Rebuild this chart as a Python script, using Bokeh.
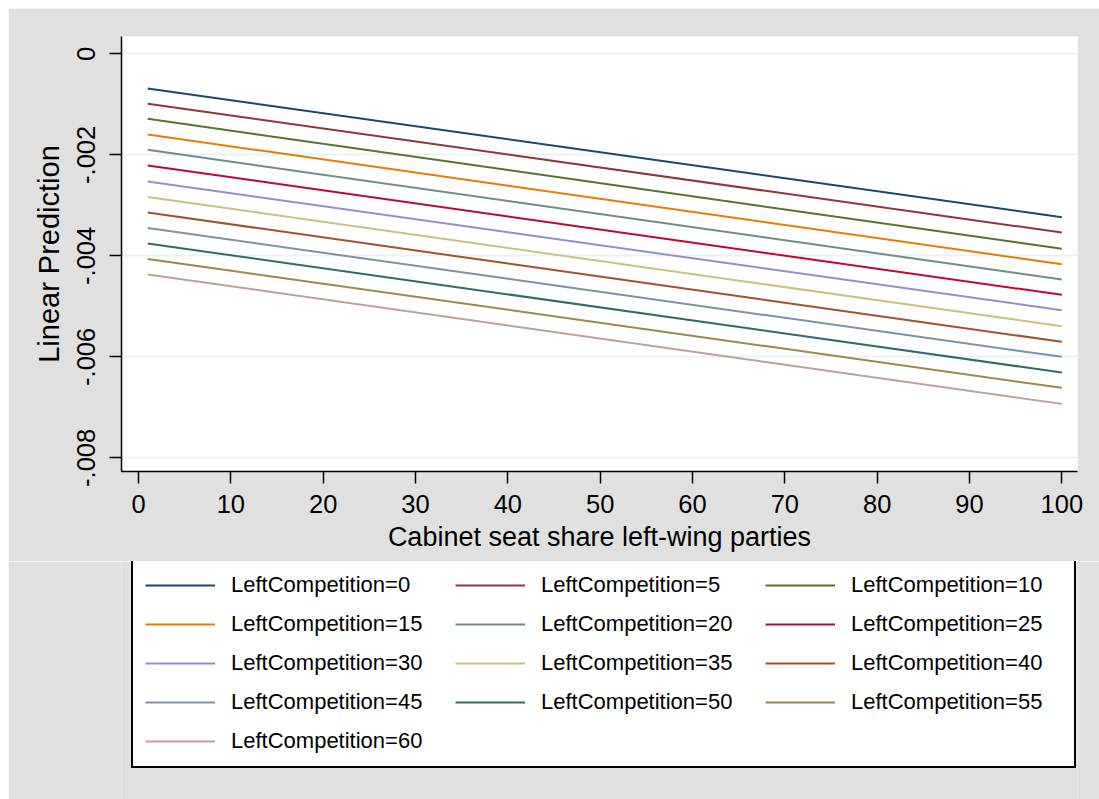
from bokeh.plotting import figure
from bokeh.layouts import column
from bokeh.models import Legend, LegendItem, FixedTicker, Range1d
from bokeh.embed import file_html
from bokeh.resources import INLINE

# ---- data ----
left_competition = [0, 5, 10, 15, 20, 25, 30, 35, 40, 45, 50, 55, 60]
seat_share = [1, 100]
pred_at_1 = [-0.000687, -0.000990, -0.001287, -0.001598, -0.001901, -0.002212,
             -0.002529, -0.002836, -0.003143, -0.003450, -0.003756, -0.004063, -0.004370]
pred_at_100 = [-0.003236, -0.003539, -0.003861, -0.004166, -0.004469, -0.004772,
               -0.005077, -0.005394, -0.005703, -0.006000, -0.006311, -0.006614, -0.006931]
x_ticks = [0, 10, 20, 30, 40, 50, 60, 70, 80, 90, 100]
y_ticks = [0, -0.002, -0.004, -0.006, -0.008]
y_tick_labels = ["0", "-.002", "-.004", "-.006", "-.008"]

colors = ["#1a476f", "#90353b", "#55752f", "#e37e00", "#6e8e84", "#c10534",
          "#938dd2", "#cac27e", "#a0522d", "#7b92a8", "#2d6d66", "#9c8847", "#bfa19c"]

FONT = "Liberation Sans"
BG = "#e0e0e0"

# ---------------- main plot ----------------
p = figure(frame_width=956, frame_height=435, output_backend="svg", toolbar_location=None,
           x_range=Range1d(-1.84, 101.7), y_range=Range1d(-0.00827, 0.000343),
           min_border_left=113, min_border_right=22, min_border_top=28,
           min_border_bottom=90)
p.border_fill_color = BG
p.background_fill_color = "white"
p.outline_line_color = None

for lc, y0, y1, c in zip(left_competition, pred_at_1, pred_at_100, colors):
    p.line(seat_share, [y0, y1], line_color=c, line_width=2)

p.xgrid.visible = False
p.ygrid.grid_line_color = "#eaf2f3"
p.ygrid.grid_line_width = 2

for ax in (p.xaxis[0], p.yaxis[0]):
    ax.axis_line_width = 1.5
    ax.axis_line_color = "black"
    ax.major_tick_line_width = 1.5
    ax.major_tick_line_color = "black"
    ax.major_tick_in = 0
    ax.major_tick_out = 12
    ax.minor_tick_line_color = None
    ax.major_label_text_font = FONT
    ax.major_label_text_font_size = "25.5px"
    ax.major_label_text_color = "black"
    ax.axis_label_text_font = FONT
    ax.axis_label_text_font_style = "normal"
    ax.axis_label_text_color = "black"

p.xaxis.ticker = FixedTicker(ticks=x_ticks)
p.xaxis.axis_label = "Cabinet seat share left-wing parties"
p.xaxis.axis_label_text_font_size = "27px"
p.xaxis.major_label_standoff = 11
p.xaxis.axis_label_standoff = 6

p.yaxis.ticker = FixedTicker(ticks=y_ticks)
p.yaxis.major_label_overrides = {t: l for t, l in zip(y_ticks, y_tick_labels)}
p.yaxis.major_label_orientation = "vertical"
p.yaxis.axis_label = "Linear Prediction"
p.yaxis.axis_label_text_font_size = "29px"
p.yaxis.major_label_standoff = 14
p.yaxis.axis_label_standoff = 10

# ---------------- legend panel (keys only; lines lie outside its range) ----------------
lg = figure(width=1091, height=238, output_backend="svg", toolbar_location=None,
            x_axis_location=None, y_axis_location=None,
            x_range=Range1d(1000, 1001), y_range=Range1d(1000, 1001),
            min_border_left=0, min_border_right=0, min_border_top=0,
            min_border_bottom=0)
lg.border_fill_color = BG
lg.background_fill_color = BG
lg.outline_line_color = None
lg.grid.visible = False

items = []
for lc, y0, y1, c in zip(left_competition, pred_at_1, pred_at_100, colors):
    r = lg.line(seat_share, [y0, y1], line_color=c, line_width=2)
    items.append(LegendItem(label=f"LeftCompetition={lc}", renderers=[r]))

legend = Legend(items=items, ncols=3, orientation="horizontal", location=(10, 31))
legend.label_text_font = FONT
legend.label_text_font_size = "22px"
legend.label_text_color = "black"
legend.glyph_width = 70
legend.glyph_height = 20
legend.label_standoff = 16
legend.label_width = 211
legend.label_height = 24
legend.spacing = 13
legend.padding = 12
legend.margin = 0
legend.border_line_color = "black"
legend.border_line_alpha = 1
legend.border_line_width = 2
legend.background_fill_color = "white"
legend.background_fill_alpha = 1
lg.add_layout(legend, "center")

page = column(p, lg, margin=(8, 0, 0, 8), spacing=0)

open("out.html", "w").write(file_html(page, INLINE))
